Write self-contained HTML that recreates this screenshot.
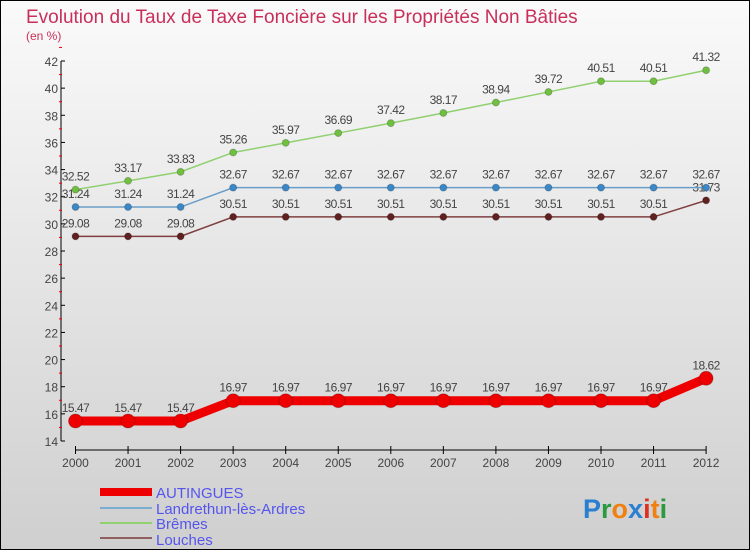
<!DOCTYPE html>
<html><head><meta charset="utf-8"><style>
body{margin:0;}
#wrap{width:750px;height:550px;position:relative;overflow:hidden;font-family:"Liberation Sans",sans-serif;}
</style></head><body>
<div id="wrap">
<svg id="chart" width="750" height="550" xmlns="http://www.w3.org/2000/svg">
<defs><linearGradient id="bg" x1="0" y1="0" x2="0" y2="1"><stop offset="0" stop-color="#fafafa"/><stop offset="1" stop-color="#cfcfcf"/></linearGradient></defs>
<rect x="0.5" y="0.5" width="749" height="549" fill="url(#bg)" stroke="#000"/>
<text x="26" y="23" font-size="19" fill="#c8305a">Evolution du Taux de Taxe Foncière sur les Propriétés Non Bâties</text>
<text x="26" y="40" font-size="12" fill="#c8305a">(en %)</text>
<g id="axes"></g><g id="series"></g>
<g>
<rect x="100" y="488" width="52" height="8" fill="#e00"/>
<text x="156" y="498" font-size="15" fill="#5555ee">AUTINGUES</text>
<line x1="100" y1="508" x2="152" y2="508" stroke="#7aaed0" stroke-width="2"/>
<text x="156" y="514" font-size="15" fill="#5555ee">Landrethun-lès-Ardres</text>
<line x1="100" y1="523" x2="152" y2="523" stroke="#90d070" stroke-width="2"/>
<text x="156" y="529" font-size="15" fill="#5555ee">Brêmes</text>
<line x1="100" y1="538" x2="152" y2="538" stroke="#906060" stroke-width="2"/>
<text x="156" y="545" font-size="15" fill="#5555ee">Louches</text>
</g>
<text x="583" y="518" font-size="27" font-weight="bold"><tspan fill="#2a7fd0">P</tspan><tspan fill="#2a9a40">r</tspan><tspan fill="#f08010">o</tspan><tspan fill="#2a7fd0">x</tspan><tspan fill="#e03020">i</tspan><tspan fill="#f08010">t</tspan><tspan fill="#2a9a40">i</tspan></text>
</svg></div>
<script>
const years=[2000,2001,2002,2003,2004,2005,2006,2007,2008,2009,2010,2011,2012];
const yTicks=[14,16,18,20,22,24,26,28,30,32,34,36,38,40,42];
const autingues=[15.47,15.47,15.47,16.97,16.97,16.97,16.97,16.97,16.97,16.97,16.97,16.97,18.62];
const landrethun=[31.24,31.24,31.24,32.67,32.67,32.67,32.67,32.67,32.67,32.67,32.67,32.67,32.67];
const bremes=[32.52,33.17,33.83,35.26,35.97,36.69,37.42,38.17,38.94,39.72,40.51,40.51,41.32];
const louches=[29.08,29.08,29.08,30.51,30.51,30.51,30.51,30.51,30.51,30.51,30.51,30.51,31.73];
const NS="http://www.w3.org/2000/svg";
const x=i=>75.5+i*52.55;
const y=v=>441-(v-14)*(380/28);
function mk(tag,attrs,parent,txt){const e=document.createElementNS(NS,tag);for(const k in attrs)e.setAttribute(k,attrs[k]);if(txt!==undefined)e.textContent=txt;parent.appendChild(e);return e;}
const ax=document.getElementById('axes');
let e=mk('line',{x1:61,y1:y(42),x2:61,y2:y(14),stroke:'#000'},ax);


yTicks.forEach(t=>{
  mk('line',{x1:61,y1:y(t),x2:65,y2:y(t),stroke:'#000'},ax);
  mk('line',{x1:59,y1:y(t+1),x2:62,y2:y(t+1),stroke:'#e00'},ax);
  const l=mk('text',{x:58,y:y(t)+5,'font-size':12,fill:'#444','text-anchor':'end'},ax,t);
  
  
});
e=mk('line',{x1:x(0),y1:450,x2:x(12),y2:450,stroke:'#000'},ax);


years.forEach((yr,i)=>{
  mk('line',{x1:x(i),y1:446,x2:x(i),y2:454,stroke:'#000'},ax);
  const l=mk('text',{x:x(i),y:467,'font-size':12,fill:'#444','text-anchor':'middle'},ax,yr);
  
  
});
const sg=document.getElementById('series');
function series(vals,color,w,r,ptFill,name){
  const g=mk('g',{},sg);
  
  
  const p=mk('polyline',{points:vals.map((v,i)=>x(i)+','+y(v)).join(' '),fill:'none',stroke:color,'stroke-width':w},g);
  
  
  vals.forEach((v,i)=>{
    const c=mk('circle',{cx:x(i),cy:y(v),r:r,fill:ptFill,stroke:'#0003'},g);
    
    
    const t=mk('text',{x:x(i),y:y(v)-9,'font-size':12,fill:'#444','text-anchor':'middle','letter-spacing':'-0.5'},g,String(v));
    
    
  });
}
series(louches,'#804040',1.5,3.5,'#602020','louches');
series(landrethun,'#6a9ec8',1.5,3.5,'#3a88c8','landrethun');
series(bremes,'#90d070',1.5,3.5,'#70c040','bremes');
series(autingues,'#ee0000',9,7,'#e00','autingues');
</script>
</body></html>
